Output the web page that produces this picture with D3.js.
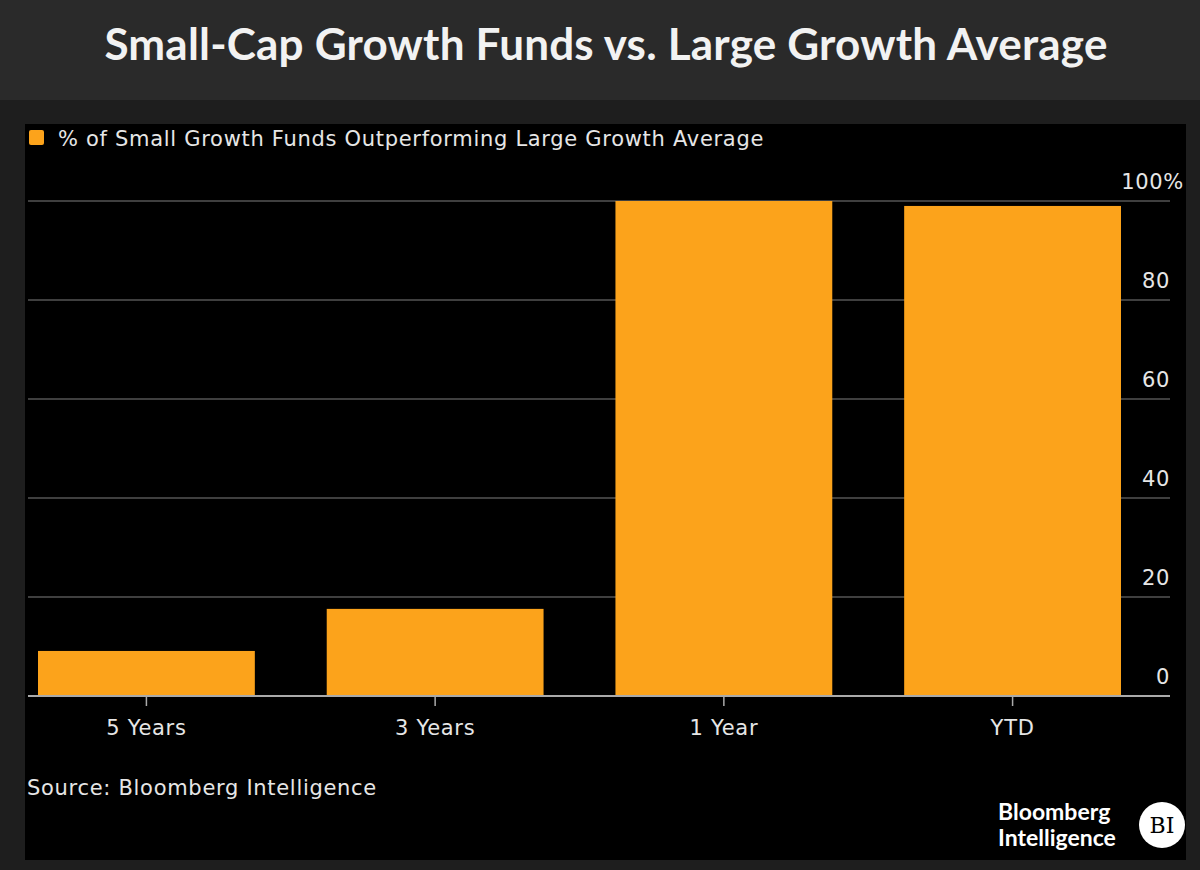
<!DOCTYPE html>
<html><head><meta charset="utf-8">
<script src="https://cdn.jsdelivr.net/npm/d3@7"></script>
<style>
body{margin:0;background:#1e1e1e;}
text{font-family:"DejaVu Sans",sans-serif;letter-spacing:0.7px;}
</style></head>
<body><div id="chart"></div>
<script>
// data
const categories = ["5 Years", "3 Years", "1 Year", "YTD"];
const values = [9.1, 17.6, 100, 99];
const yTicks = [0, 20, 40, 60, 80, 100];

const W = 1200, H = 870;
const svg = d3.select("#chart").append("svg")
  .attr("width", W).attr("height", H);

// backgrounds
svg.append("rect").attr("width", W).attr("height", H).attr("fill", "#1e1e1e");
svg.append("rect").attr("width", W).attr("height", 100).attr("fill", "#2a2a2a");
svg.append("rect").attr("x", 25).attr("y", 124).attr("width", 1161).attr("height", 736).attr("fill", "#000");

svg.append("text").attr("x", 606).attr("y", 60).attr("text-anchor", "middle")
  .attr("fill", "#f2f2f2").style("font-size", "44px").style("font-weight", "bold")
  .style("letter-spacing", "0.2px")
  .style("font-family", "Lato, 'Open Sans', sans-serif")
  .text("Small-Cap Growth Funds vs. Large Growth Average");

// legend
svg.append("rect").attr("x", 29).attr("y", 130).attr("width", 15).attr("height", 15).attr("rx", 2).attr("fill", "#fca31b");
svg.append("text").attr("x", 58).attr("y", 146).attr("fill", "#e6e6e6").style("font-size", "21px")
  .text("% of Small Growth Funds Outperforming Large Growth Average");

const x = d3.scaleBand().domain(categories).range([38, 1121]).paddingInner(0.249).paddingOuter(0);
const y = d3.scaleLinear().domain([0, 100]).range([696, 201]);

// gridlines
svg.append("g").selectAll("line").data(yTicks.slice(1)).join("line")
  .attr("x1", 28).attr("x2", 1170).attr("y1", d => y(d)).attr("y2", d => y(d))
  .attr("stroke", "#555").attr("stroke-width", 1.5);

// bars
svg.append("g").selectAll("rect").data(values).join("rect")
  .attr("x", (d, i) => x(categories[i])).attr("width", x.bandwidth())
  .attr("y", d => y(d)).attr("height", d => y(0) - y(d))
  .attr("fill", "#fca31b");

// x axis
const xa = svg.append("g").attr("transform", `translate(0,${y(0)})`)
  .call(d3.axisBottom(x).tickSize(10).tickPadding(14));
xa.select(".domain").attr("d", "M28,0H1170").attr("stroke", "#aaa").attr("stroke-width", 2);
xa.selectAll(".tick line").attr("stroke", "#aaa").attr("stroke-width", 1.5);
xa.selectAll("text").attr("fill", "#e6e6e6").style("font-size", "21px")
  .style("font-family", "'DejaVu Sans',sans-serif");

// y tick labels
svg.append("g").selectAll("text").data(yTicks).join("text")
  .attr("x", d => d === 100 ? 1184 : 1170).attr("y", d => y(d) - 12)
  .attr("text-anchor", "end").attr("fill", "#e6e6e6").style("font-size", "21px")
  .text(d => d === 100 ? "100%" : d);

svg.append("text").attr("x", 27).attr("y", 795).attr("fill", "#e6e6e6").style("font-size", "21px")
  .text("Source: Bloomberg Intelligence");

// logo
["Bloomberg", "Intelligence"].forEach((t, i) => {
  svg.append("text").attr("x", 998).attr("y", 820 + i * 26).attr("fill", "#fff")
    .style("font-family", "Lato, 'Open Sans', sans-serif").style("letter-spacing", "0px")
    .style("font-size", "23px").style("font-weight", "bold").text(t);
});
svg.append("circle").attr("cx", 1162).attr("cy", 825).attr("r", 23).attr("fill", "#fff");
svg.append("text").attr("x", 1162).attr("y", 833).attr("text-anchor", "middle").attr("fill", "#000")
  .style("letter-spacing", "0px")
  .style("font-size", "22px").style("font-family", "'DejaVu Serif',serif").text("BI");
</script></body></html>
